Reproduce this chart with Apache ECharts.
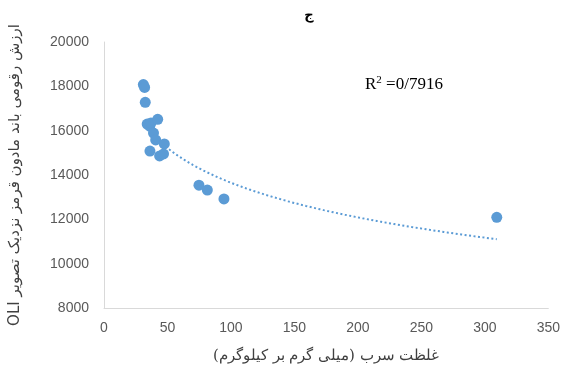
<!DOCTYPE html>
<html><head><meta charset="utf-8">
<script src="https://cdn.jsdelivr.net/npm/echarts@6/dist/echarts.min.js"></script>
<style>html,body{margin:0;padding:0;background:#fff}#c{width:563px;height:376px}</style>
</head><body><div id="c"></div>
<script>
// lead concentration (mg/kg)
const leadX = [31, 32, 32.5, 34, 36, 37, 42.3, 39, 40.7, 47.5, 36.2, 43.8, 46.9, 74.8, 81.4, 94.5, 309.4];
// NIR band digital value
const nirY = [18080, 17950, 17280, 16300, 16200, 16350, 16510, 15890, 15580, 15400, 15080, 14860, 14950, 13540, 13320, 12920, 12090];
const xTicks = [0, 50, 100, 150, 200, 250, 300, 350];
const yTicks = [8000, 10000, 12000, 14000, 16000, 18000, 20000];
// logarithmic trendline y = a + b ln(x), coefficients
const trendA = 24036;
const trendB = -2255;
const titleText = 'ج';
const xName = 'غلظت سرب (میلی گرم بر کیلوگرم)';
const yName = 'ارزش رقومی باند مادون قرمز نزدیک تصویر OLI';
const r2Label = '0/7916';

const pts = leadX.map((x, i) => [x, nirY[i]]);
const xmin = Math.min(...leadX), xmax = Math.max(...leadX);
const trend = [];
for (let k = 0; k <= 100; k++) { const x = xmin + (xmax - xmin) * k / 100; trend.push([x, trendA + trendB * Math.log(x)]); }
const rtl = s => '\u202B' + s + '\u202C';

const chart = echarts.init(document.getElementById('c'));
chart.setOption({
  animation: false,
  title: { text: titleText, left: 304, top: 4, textAlign: 'center',
    textStyle: { fontSize: 13, fontWeight: 'bold', color: '#000', fontFamily: 'DejaVu Sans' } },
  grid: { left: 101, right: 14, top: 42, bottom: 68 },
  xAxis: { type: 'value', min: 0, max: 350, interval: 50,
    name: rtl(xName), nameLocation: 'middle', nameGap: 41,
    nameTextStyle: { fontSize: 15, color: '#404040', fontFamily: 'DejaVu Serif' },
    axisLine: { show: true, lineStyle: { color: '#d9d9d9' } }, axisTick: { show: false },
    splitLine: { show: false },
    axisLabel: { color: '#595959', fontSize: 14, margin: 13, fontFamily: 'Liberation Sans' } },
  yAxis: { type: 'value', min: 8000, max: 20000, interval: 2000,
    name: rtl(yName), nameLocation: 'middle', nameGap: 81, nameRotate: 90,
    nameTextStyle: { fontSize: 15, color: '#404040', fontFamily: 'DejaVu Sans' },
    axisLine: { show: true, lineStyle: { color: '#d9d9d9' } }, axisTick: { show: false },
    splitLine: { show: false },
    axisLabel: { color: '#595959', fontSize: 14, margin: 15, fontFamily: 'Liberation Sans',
      formatter: v => String(v) } },
  graphic: [{ type: 'text', left: 365, top: 75,
    style: { text: '{r|R}{s|2}{r| =' + r2Label + '}',
      rich: { r: { fontSize: 17, fontFamily: 'Liberation Serif', fill: '#000' },
              s: { fontSize: 11, fontFamily: 'Liberation Serif', fill: '#000', verticalAlign: 'top', padding: [0, 0, 8, 0] } } } }],
  series: [
    { type: 'line', data: trend, showSymbol: false, symbol: 'none', z: 1,
      lineStyle: { color: '#5B9BD5', width: 2, type: [2, 2.5] } },
    { type: 'scatter', data: pts, symbolSize: 11, z: 2,
      itemStyle: { color: '#5B9BD5', opacity: 1 } }
  ]
});
</script></body></html>
